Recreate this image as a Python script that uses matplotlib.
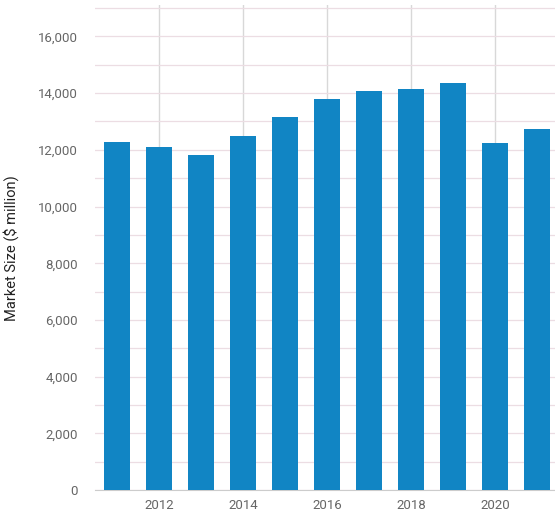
import matplotlib.pyplot as plt
from matplotlib.ticker import MultipleLocator, FuncFormatter

years = [2011, 2012, 2013, 2014, 2015, 2016, 2017, 2018, 2019, 2020, 2021]
market_size = [12280, 12100, 11830, 12500, 13150, 13780, 14080, 14130, 14340, 12230, 12720]

plt.rcParams['font.family'] = ['Roboto', 'DejaVu Sans']

fig = plt.figure(figsize=(5.55, 5.16), dpi=100)
ax = fig.add_axes([0.171, 0.05, 0.829, 0.94])

ax.bar(years, market_size, width=0.62, color="#1185c4", zorder=3)

ax.set_xlim(2010.48, 2021.43)
ax.set_ylim(0, 17100)
ax.set_xticks([2012, 2014, 2016, 2018, 2020])
ax.yaxis.set_major_locator(MultipleLocator(2000))
ax.yaxis.set_minor_locator(MultipleLocator(1000))
ax.yaxis.set_major_formatter(FuncFormatter(lambda v, p: f"{int(v):,}"))

ax.grid(axis="y", which="both", color="#ecdde3", linewidth=0.9, zorder=0)
ax.grid(axis="x", color="#d8d8d8", linewidth=1, zorder=0)

for s in ["top", "right", "left"]:
    ax.spines[s].set_visible(False)
ax.spines["bottom"].set_color("#cccccc")

ax.tick_params(axis="both", which="both", length=0, labelsize=9.5, colors="#666666")
ax.tick_params(axis="x", pad=6)
ax.tick_params(axis="y", pad=12)
ax.set_ylabel("Market Size ($ million)", fontsize=10.5, color="#222222", labelpad=14)

fig.savefig("out.png", dpi=100)
